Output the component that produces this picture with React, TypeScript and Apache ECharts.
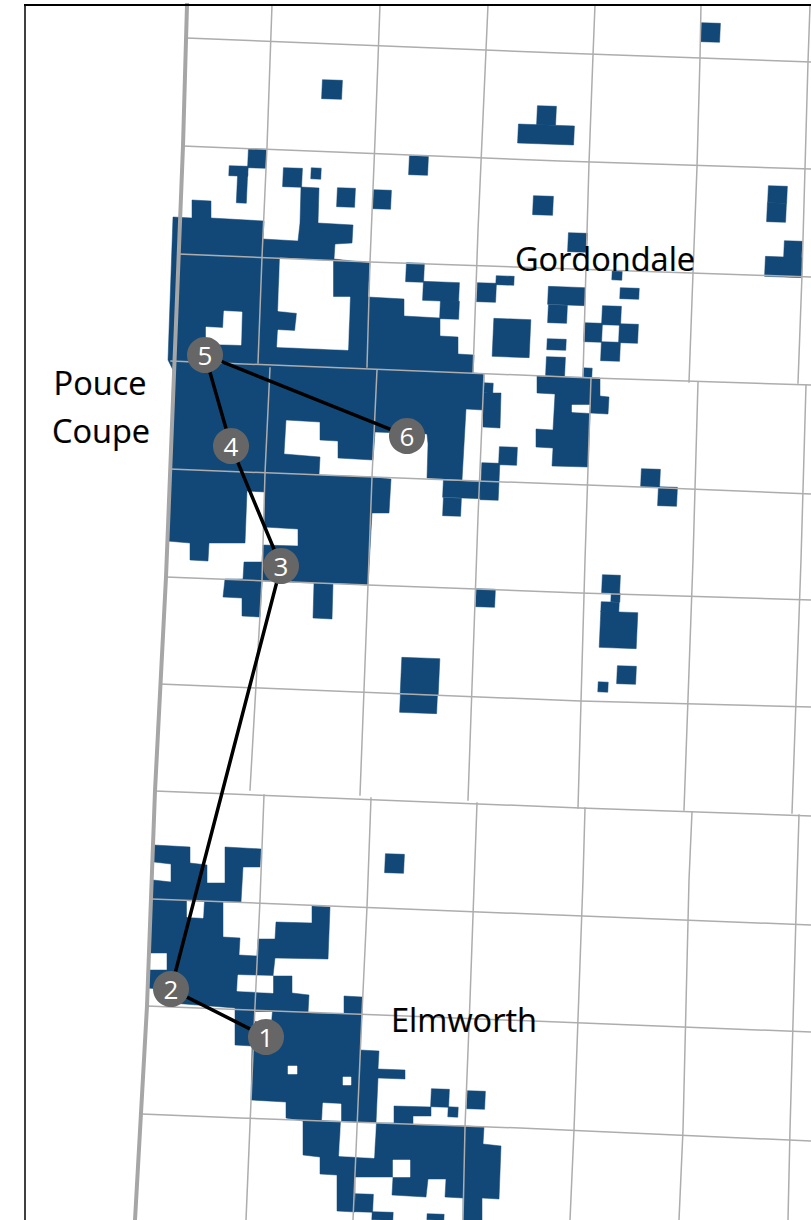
import React, { useEffect, useRef } from "react";
import * as echarts from "echarts";

// Map coordinates are in the plot's own units: x 0-811, y 0-1220 (y downwards).
// Separate parcels: [x1, y1, x2, y2]
const parcels = [
  [701,23,720,42],[322,80,342,99],[537,106,556,125],[518,125,574,144],[409,156,428,175],
  [533,196,553,215],[248,149,266,168],[229,166,248,176],[237,173,247,203],[283,168,302,187],
  [311,168,321,179],[337,188,355,207],[373,190,391,209],
  [768,186,787,203],[767,203,786,222],[784,241,802,258],[765,257,802,277],
  [406,263,424,282],[423,282,459,301],[440,301,459,319],[477,283,496,302],[496,276,514,285],
  [548,287,585,305],[548,305,567,323],[568,233,587,252],[612,271,622,280],[620,288,639,299],
  [602,306,621,325],[584,323,602,342],[619,324,638,343],[601,342,620,361],[493,319,530,357],
  [547,339,566,350],[546,357,565,376],[583,368,592,377],
  [484,383,493,393],[499,447,517,465],[481,463,499,500],[443,481,481,498],[443,498,461,516],
  [641,469,660,487],[658,487,677,506],
  [476,589,495,607],[602,575,620,593],[611,593,620,602],[601,602,619,612],[600,612,637,648],
  [617,666,636,684],[598,682,608,692],[401,658,439,695],[400,695,437,713],[385,854,404,873],
  [467,1091,485,1109],[431,1089,449,1107],[448,1107,458,1117],
  [355,1194,373,1212],[372,1212,393,1220],[427,1214,444,1220],
];

// Large connected holdings, traced as outlines
const blockPouceCoupe = [
  [192,200],[211,201],[211,218],[264,221],[263,239],[298,241],[300,223],[301,187],[319,188],[318,223],
  [353,225],[352,243],[335,244],[334,259],[370,263],[368,297],[404,299],[404,316],[440,318],[440,336],
  [458,337],[458,354],[474,355],[473,373],[484,374],[484,393],[501,393],[500,428],[483,427],[483,410],
  [466,409],[462,480],[427,478],[428,444],[427,434],[375,432],[373,460],[338,458],[338,441],[320,440],
  [320,422],[286,420],[284,454],[320,457],[319,475],[372,477],[391,479],[389,513],[372,513],[368,585],
  [333,583],[332,619],[313,618],[314,583],[262,581],[260,617],[242,616],[242,598],[223,597],[225,579],
  [243,579],[244,562],[262,562],[263,545],[298,546],[298,529],[264,527],[265,492],[247,491],[245,543],
  [209,543],[208,561],[190,560],[190,543],[167,541],[170,469],[173,370],[168,360],[173,217],[192,218],
];
const blockGordondale = [
  [537,376],[600,378],[600,396],[609,397],[608,414],[590,413],[588,467],[552,466],[553,448],[536,447],
  [536,429],[553,430],[555,394],[537,393],
];
const blockElmworth = [
  [154,845],[190,847],[190,863],[207,865],[207,883],[225,883],[225,847],[261,849],[260,867],[243,867],
  [241,902],[223,902],[223,937],[240,938],[239,955],[257,956],[258,939],[275,939],[276,922],[312,923],
  [312,906],[330,907],[328,959],[275,958],[273,976],[292,976],[292,993],[309,995],[308,1013],[344,1014],
  [344,996],[362,997],[362,1013],[360,1050],[379,1051],[378,1069],[405,1070],[405,1079],[378,1078],
  [376,1123],[394,1123],[394,1106],[431,1107],[431,1116],
  [413,1116],[413,1125],[465,1126],[484,1127],[483,1144],[501,1146],[499,1199],[482,1198],[482,1220],
  [463,1220],[463,1198],[445,1197],[446,1179],[428,1179],[426,1197],[392,1195],[393,1177],[355,1177],
  [355,1212],[337,1211],[337,1175],[320,1174],[320,1157],[303,1155],[303,1121],[286,1118],[286,1102],
  [251,1100],[252,1046],[235,1045],[235,1008],[172,1003],[172,990],[147,988],[148,970],[167,970],
  [167,953],[149,953],[152,900],[153,880],[171,882],[171,864],[154,862],
];
const blocks = [blockPouceCoupe, blockGordondale, blockElmworth];

// Unoccupied clearings inside the holdings
const clearings = [
  [[280,258],[333,261],[333,297],[350,297],[348,350],[277,347],[278,330],[295,331],[297,313],[278,311]],
  [[224,311],[242,312],[241,345],[206,344],[206,327],[223,328]],
  [[572,405],[590,405],[589,413],[572,412]],
  [[187,901],[204,902],[203,918],[187,917]],
  [[238,975],[273,976],[273,993],[237,991]],
  [[255,1012],[272,1012],[271,1022],[255,1021]],
  [[288,1066],[297,1066],[297,1074],[288,1074]],
  [[343,1077],[351,1077],[351,1085],[343,1085]],
  [[323,1103],[341,1104],[341,1121],[322,1120]],
  [[341,1122],[376,1123],[374,1158],[339,1156]],
  [[393,1160],[410,1160],[410,1177],[393,1177]],
];

// Township grid: horizontal lines
const gridRows = [
  [[187,38],[560,53],[811,62]],
  [[183,146],[560,161],[811,169]],
  [[179,254],[370,262],[811,277]],
  [[171,361],[592,378],[811,385]],
  [[170,469],[373,477],[640,487],[811,494]],
  [[166,577],[368,585],[580,593],[811,600]],
  [[160,684],[580,701],[811,707]],
  [[155,791],[580,808],[811,816]],
  [[152,899],[380,908],[811,925]],
  [[147,1006],[380,1015],[811,1032]],
  [[142,1114],[240,1118],[520,1128],[811,1141]],
];
// Township grid: vertical lines, one stretch per correction block
const gridColumns = [
  [[272,5],[267,147],[262,257],[258,363]],
  [[270,368],[265,473],[262,580],[250,790]],
  [[264,795],[260,900],[255,1006],[246,1220]],
  [[380,5],[375,140],[370,262],[367,367]],
  [[377,370],[372,477],[368,585],[360,795]],
  [[371,798],[367,907],[362,1013],[353,1220]],
  [[488,5],[478,230],[473,373]],
  [[484,374],[478,517],[468,800]],
  [[477,803],[470,1000],[465,1127],[463,1220]],
  [[595,5],[593,55],[589,163],[586,267],[583,377]],
  [[591,378],[585,560],[578,808]],
  [[585,808],[583,880],[574,1130],[570,1220]],
  [[701,5],[700,58],[697,167],[693,273],[689,382]],
  [[698,382],[693,560],[684,810]],
  [[692,812],[689,880],[683,1130],[679,1220]],
  [[810,5],[808,62],[805,168],[802,275],[798,383]],
  [[806,385],[801,560],[792,813]],
  [[799,815],[797,880],[790,1130],[788,1220]],
];
const borderLine = [[187,5],[183,146],[166,577],[155,791],[147,1006],[135,1220]];
const frameLeft = [[25,5],[25,1220]];
const frameTop = [[25,5],[811,5]];

// Route stops, in order
const routeStops = [
  { name: "1", value: [266,1037] },
  { name: "2", value: [171,989] },
  { name: "3", value: [281,566] },
  { name: "4", value: [231,446] },
  { name: "5", value: [205,355] },
  { name: "6", value: [407,436] },
];
const placeNames = [
  { name: "Gordondale", value: [605,258] },
  { name: "Pouce", value: [100,382] },
  { name: "Coupe", value: [101,430] },
  { name: "Elmworth", value: [464,1019] },
];

const BLUE = "#124877";
const FONT = "'Open Sans', 'Noto Sans', sans-serif";
const SHEAR_X = 0.045;
const SHEAR_Y = 0.035;

function lineSeries(data: number[][], color: string, width: number, z: number) {
  return {
    type: "line",
    data,
    showSymbol: false,
    symbol: "none",
    silent: true,
    z,
    lineStyle: { color, width, cap: "square", join: "miter" },
  };
}

function polygonSeries(rings: number[][][], fill: string, z: number) {
  return {
    type: "custom",
    silent: true,
    z,
    data: rings.map((r) => r[0]),
    encode: { x: 0, y: 1 },
    renderItem: (params: any, api: any) => ({
      type: "polygon",
      shape: { points: rings[params.dataIndex].map((p) => api.coord(p)) },
      style: { fill, stroke: fill, lineWidth: 0.5 },
    }),
  };
}

export default function App() {
  const ref = useRef<HTMLDivElement>(null);
  useEffect(() => {
    document.body.style.margin = "0";
    document.body.style.background = "#fff";
    const chart = echarts.init(ref.current!, undefined, { renderer: "svg" });
    chart.setOption({
      animation: false,
      backgroundColor: "#fff",
      grid: { left: 0, right: 0, top: 0, bottom: 0 },
      xAxis: { type: "value", min: 0, max: 811, show: false },
      yAxis: { type: "value", min: 0, max: 1220, inverse: true, show: false },
      series: [
        {
          type: "custom",
          silent: true,
          z: 1,
          data: parcels,
          encode: { x: [0, 2], y: [1, 3] },
          renderItem: (_: any, api: any) => {
            const x1 = api.value(0), y1 = api.value(1), x2 = api.value(2), y2 = api.value(3);
            const cx = (x1 + x2) / 2, cy = (y1 + y2) / 2;
            const pts = [[x1, y1], [x2, y1], [x2, y2], [x1, y2]].map(([x, y]) =>
              api.coord([x - SHEAR_X * (y - cy), y + SHEAR_Y * (x - cx)]),
            );
            return {
              type: "polygon",
              shape: { points: pts },
              style: { fill: BLUE, stroke: BLUE, lineWidth: 0.5 },
            };
          },
        },
        polygonSeries(blocks, BLUE, 1),
        polygonSeries(clearings, "#ffffff", 1.5),
        ...gridRows.map((d) => lineSeries(d, "#adadad", 1.5, 2)),
        ...gridColumns.map((d) => lineSeries(d, "#adadad", 1.5, 2)),
        lineSeries(borderLine, "#a6a6a6", 4, 3),
        lineSeries(frameLeft, "#000", 1.5, 3),
        lineSeries(frameTop, "#000", 2, 3),
        lineSeries(routeStops.map((s) => s.value), "#000", 3.5, 4),
        {
          type: "scatter",
          data: routeStops,
          symbol: "circle",
          symbolSize: 36,
          silent: true,
          z: 5,
          itemStyle: { color: "#666666", opacity: 1 },
          label: {
            show: true,
            position: "inside",
            formatter: "{b}",
            color: "#fff",
            fontSize: 26,
            fontFamily: FONT,
          },
        },
        {
          type: "scatter",
          data: placeNames,
          symbolSize: 0,
          silent: true,
          z: 6,
          itemStyle: { opacity: 1 },
          label: {
            show: true,
            position: "inside",
            formatter: "{b}",
            color: "#000",
            opacity: 1,
            textBorderColor: "#000",
            textBorderWidth: 0.2,
            fontSize: 32.5,
            fontFamily: FONT,
          },
        },
      ],
    });
    return () => chart.dispose();
  }, []);
  return <div ref={ref} style={{ position: "absolute", left: 0, top: 0, width: 811, height: 1220 }} />;
}
